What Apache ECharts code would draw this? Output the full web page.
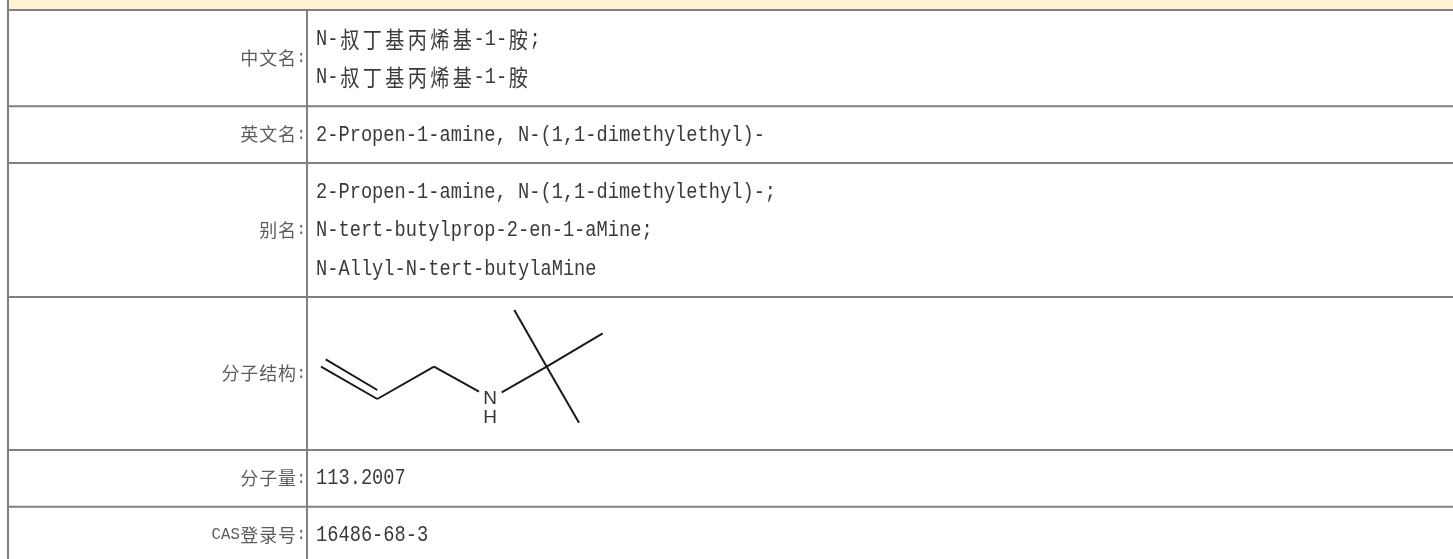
<!DOCTYPE html>
<html>
<head>
<meta charset="utf-8">
<style>html,body{margin:0;padding:0;background:#fff}#main{width:1453px;height:559px}</style>
<script src="https://cdn.jsdelivr.net/npm/echarts@6/dist/echarts.min.js"></script>
</head>
<body>
<div id="main"></div>
<script>
var rowLabels = ['中文名:', '英文名:', '别名:', '分子结构:', '分子量:', 'CAS登录号:'];
var rowLines = [
  ['N-叔丁基丙烯基-1-胺;', 'N-叔丁基丙烯基-1-胺'],
  ['2-Propen-1-amine, N-(1,1-dimethylethyl)-'],
  ['2-Propen-1-amine, N-(1,1-dimethylethyl)-;', 'N-tert-butylprop-2-en-1-aMine;', 'N-Allyl-N-tert-butylaMine'],
  [],
  ['113.2007'],
  ['16486-68-3']
];
// horizontal rules of the table, top to bottom
var rowEdges = [10, 106.3, 163, 297, 450, 506.7, 559];
var lineCentres = [[39, 77], [135], [192, 230, 269], [], [478], [535]];
var leftEdge = 8, columnEdge = 307, pageRight = 1453;

// molecule drawing, pairs of bond ends
var bonds = [
  [[325.7, 359.3], [377.3, 390]],
  [[321, 366.7], [377.3, 399]],
  [[377.3, 399], [434, 366.7]],
  [[434, 366.7], [479, 391.7]],
  [[501.7, 392.3], [546.7, 366.7]],
  [[546.7, 366.7], [514.3, 310]],
  [[546.7, 366.7], [602.7, 333.3]],
  [[546.7, 366.7], [579, 422.7]]
];
var atoms = [[490, 399, 'N'], [490, 418, 'H']];

// latin runs stay whole, each CJK glyph gets its own box to keep the pitch of the original
function toRich(text, narrow, wide) {
  return text.replace(/[\u0100-\uffff]|[^\u0100-\uffff]+/g, function (run) {
    return '{' + (run.charCodeAt(0) > 255 ? wide : narrow) + '|' + run + '}';
  });
}

function segments(list) {
  var out = [];
  list.forEach(function (s) {
    out.push(s[0], s[1], ['-', '-']);
  });
  return out;
}

var rules = [
  [[leftEdge, 0], [leftEdge, 559]],
  [[columnEdge, rowEdges[0]], [columnEdge, 559]]
];
rowEdges.slice(0, 6).forEach(function (y) {
  rules.push([[leftEdge, y], [pageRight, y]]);
});

var labelData = rowLabels.map(function (t, i) {
  return [306, (rowEdges[i] + rowEdges[i + 1]) / 2, t];
});
// last row runs past the bottom of the window
labelData[5][1] = 535;

var valueData = [];
rowLines.forEach(function (lines, i) {
  lines.forEach(function (t, j) {
    valueData.push([316, lineCentres[i][j], t]);
  });
});

var option = {
  animation: false,
  backgroundColor: '#fff',
  grid: { left: 0, right: 0, top: 0, bottom: 0 },
  xAxis: { type: 'value', min: 0, max: 1453, show: false },
  yAxis: { type: 'value', min: 0, max: 559, inverse: true, show: false },
  series: [
    {
      type: 'custom',
      silent: true,
      data: [[leftEdge, 0, pageRight, rowEdges[0]]],
      renderItem: function (params, api) {
        var a = api.coord([api.value(0), api.value(1)]);
        var b = api.coord([api.value(2), api.value(3)]);
        return {
          type: 'rect',
          shape: { x: a[0], y: a[1], width: b[0] - a[0], height: b[1] - a[1] },
          style: { fill: '#fff3d2' }
        };
      }
    },
    {
      type: 'line',
      silent: true,
      showSymbol: false,
      connectNulls: false,
      data: segments(rules),
      lineStyle: { color: '#808080', width: 2 }
    },
    {
      type: 'line',
      silent: true,
      showSymbol: false,
      connectNulls: false,
      data: segments(bonds),
      lineStyle: { color: '#1a1a1a', width: 2 }
    },
    {
      type: 'scatter',
      silent: true,
      symbolSize: 0,
      data: atoms,
      label: {
        show: true,
        position: 'inside',
        formatter: function (p) { return p.data[2]; },
        fontFamily: 'Liberation Sans',
        fontSize: 19,
        color: '#000'
      }
    },
    {
      type: 'scatter',
      silent: true,
      symbolSize: 0,
      data: labelData,
      label: {
        show: true,
        position: 'left',
        distance: 0,
        formatter: function (p) { return toRich(p.data[2], 'n', 'w'); },
        rich: {
          n: { fontFamily: 'Liberation Mono', fontSize: 15.75, color: '#333' },
          w: { fontFamily: 'Noto Sans CJK SC', fontSize: 18, width: 18.9, align: 'center', color: '#333' }
        }
      }
    },
    {
      // the original face is narrow and tall, so the value lines get squeezed sideways
      type: 'custom',
      silent: true,
      data: valueData,
      renderItem: function (params, api) {
        var p = api.coord([api.value(0), api.value(1)]);
        return {
          type: 'text',
          x: p[0],
          y: p[1],
          scaleX: 0.85,
          style: {
            text: toRich(valueData[params.dataIndex][2], 'n', 'w'),
            verticalAlign: 'middle',
            rich: {
              n: { fontFamily: 'Liberation Mono', fontSize: 22, fill: '#3a3a3a' },
              w: { fontFamily: 'Noto Sans CJK SC', fontSize: 22.5, width: 26.47, align: 'center', fill: '#3a3a3a' }
            }
          }
        };
      }
    }
  ]
};

var chart = echarts.init(document.getElementById('main'));
chart.setOption(option);
</script>
</body>
</html>
